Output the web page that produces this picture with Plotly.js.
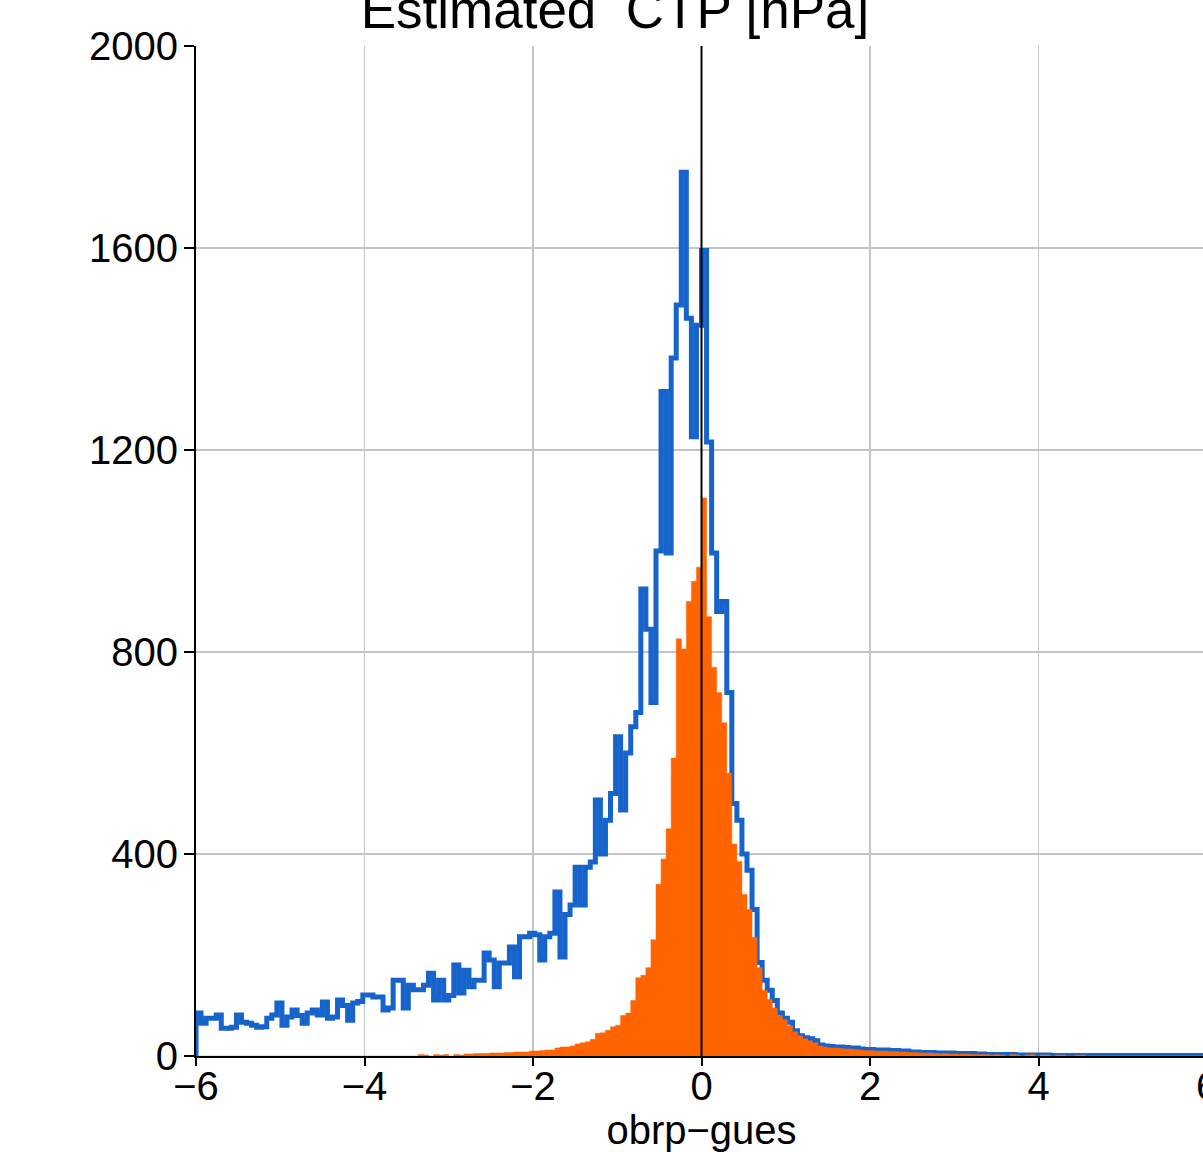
<!DOCTYPE html>
<html>
<head>
<meta charset="utf-8">
<script src="https://cdn.plot.ly/plotly-3.0.1.min.js"></script>
<style>
html, body { margin: 0; padding: 0; overflow: hidden; background: #fff; }
#chart { width: 1230px; height: 1152px; }
</style>
</head>
<body>
<div id="chart"></div>
<script>
// Histogram bins: 200 bins of width 0.06 from -6 to 6
const binStart = -6;
const binWidth = 0.06;

// Blue step histogram (counts per bin)
const blueCounts = [
  85, 65, 75, 75, 81, 55, 55, 57, 81, 67,
  65, 61, 57, 58, 75, 81, 105, 61, 77, 91,
  80, 65, 85, 91, 81, 107, 75, 77, 111, 100,
  71, 105, 108, 121, 121, 117, 117, 91, 95, 150,
  150, 95, 140, 131, 131, 140, 164, 111, 150, 111,
  120, 180, 125, 170, 137, 150, 150, 204, 190, 137,
  184, 184, 216, 157, 236, 236, 243, 240, 190, 236,
  243, 325, 196, 280, 299, 374, 299, 374, 384, 507,
  400, 467, 520, 632, 487, 600, 652, 680, 925, 845,
  700, 1000, 1316, 996, 1382, 1487, 1750, 1461, 1226, 1447,
  1595, 1216, 996, 880, 900, 720, 500, 467, 400, 368,
  290, 185, 150, 130, 110, 85, 75, 67, 50, 40,
  36, 34, 30, 22, 20, 19, 18, 18, 17, 16,
  16, 14, 13, 13, 12, 12, 12, 11, 11, 10,
  10, 8, 8, 7, 7, 7, 6, 6, 6, 6,
  5, 5, 5, 5, 4, 4, 3, 3, 3, 3,
  2, 3, 2, 2, 2, 2, 2, 2, 2, 1,
  1, 1, 1, 1, 1, 1, 1, 1, 1, 1,
  1, 1, 1, 1, 1, 1, 1, 1, 1, 1,
  1, 1, 1, 1, 1, 1, 1, 1, 1, 1
];

// Orange filled histogram (counts per bin)
const orangeCounts = [
  0, 0, 0, 0, 0, 0, 0, 0, 0, 0,
  0, 0, 0, 0, 0, 0, 0, 0, 0, 0,
  0, 0, 0, 0, 0, 0, 0, 0, 0, 0,
  0, 0, 0, 0, 0, 0, 0, 0, 0, 0,
  0, 0, 0, 0, 3, 2, 0, 3, 2, 3,
  0, 3, 2, 4, 4, 5, 5, 5, 6, 6,
  6, 7, 7, 8, 8, 8, 10, 10, 11, 12,
  12, 16, 18, 18, 20, 24, 26, 28, 33, 45,
  46, 51, 58, 61, 80, 85, 110, 155, 160, 175,
  230, 340, 390, 450, 590, 826, 806, 900, 940, 968,
  1105, 870, 770, 720, 660, 560, 420, 385, 320, 290,
  235, 175, 130, 112, 95, 80, 72, 60, 48, 40,
  34, 30, 26, 20, 18, 16, 16, 15, 14, 14,
  13, 12, 11, 11, 10, 10, 10, 9, 9, 8,
  8, 7, 7, 6, 6, 6, 5, 5, 5, 4,
  4, 4, 4, 3, 3, 3, 3, 2, 3, 2,
  0, 3, 2, 0, 2, 3, 0, 2, 2, 0,
  2, 2, 0, 0, 2, 2, 0, 0, 0, 0,
  0, 0, 0, 0, 0, 0, 0, 0, 0, 0,
  0, 0, 0, 0, 0, 0, 0, 0, 0, 0
];

const xTickVals = [-6, -4, -2, 0, 2, 4, 6];
const yTickVals = [0, 400, 800, 1200, 1600, 2000];
const titleText = 'Estimated\u00a0 CTP [hPa]';
const xTitleText = 'obrp\u2212gues';

// bin edges
const nBins = blueCounts.length;
const edges = [];
for (let i = 0; i <= nBins; i++) edges.push(+(binStart + i * binWidth).toFixed(4));

function stepXY(counts) {
  const x = [edges[0]];
  const y = [0];
  for (let i = 0; i < counts.length; i++) { x.push(edges[i]); y.push(counts[i]); }
  x.push(edges[nBins]); y.push(counts[nBins - 1]);
  x.push(edges[nBins]); y.push(0);
  return { x, y };
}

const blueXY = stepXY(blueCounts);
const orangeXY = stepXY(orangeCounts);

const FONT = 'Liberation Sans, Arial, Helvetica, sans-serif';

const traces = [
  {
    type: 'scatter', mode: 'lines',
    x: blueXY.x, y: blueXY.y,
    line: { shape: 'hv', color: '#1663cc', width: 5 },
    hoverinfo: 'skip', showlegend: false
  },
  {
    type: 'scatter', mode: 'lines',
    x: orangeXY.x, y: orangeXY.y,
    line: { shape: 'hv', color: '#ff6400', width: 0.5 },
    fill: 'tozeroy', fillcolor: '#ff6400',
    hoverinfo: 'skip', showlegend: false
  }
];

const axisCommon = {
  showline: true, linecolor: '#000', linewidth: 2,
  ticks: 'outside', ticklen: 10, tickwidth: 2, tickcolor: '#000',
  showgrid: true, gridcolor: '#c4c4c4', gridwidth: 1.5,
  zeroline: false,
  tickfont: { family: FONT, size: 40, color: '#000' },
  layer: 'below traces'
};

const layout = {
  width: 1230, height: 1152,
  margin: { l: 196, r: 23, t: 46, b: 96 },
  paper_bgcolor: '#fff', plot_bgcolor: '#fff',
  showlegend: false,
  title: {
    text: titleText,
    font: { family: FONT, size: 53, color: '#000' },
    x: 0.5, xref: 'container', xanchor: 'center',
    y: 0.992, yref: 'container', yanchor: 'middle'
  },
  xaxis: Object.assign({}, axisCommon, {
    range: [-6, 6], tickvals: xTickVals, ticktext: xTickVals.map(v => v < 0 ? '\u2212' + Math.abs(v) : String(v)),
    ticklen: 8, ticklabelstandoff: -14,
    title: { text: xTitleText, font: { family: FONT, size: 40, color: '#000' }, standoff: 22 }
  }),
  yaxis: Object.assign({}, axisCommon, {
    range: [0, 2000], tickvals: yTickVals, ticktext: yTickVals.map(String),
    ticklabelstandoff: -2
  }),
  shapes: [
    { type: 'line', xref: 'x', yref: 'paper', x0: 0, x1: 0, y0: 0, y1: 1,
      line: { color: '#000', width: 2 }, layer: 'above' }
  ]
};

Plotly.newPlot('chart', traces, layout, { displayModeBar: false, staticPlot: true });
</script>
</body>
</html>
